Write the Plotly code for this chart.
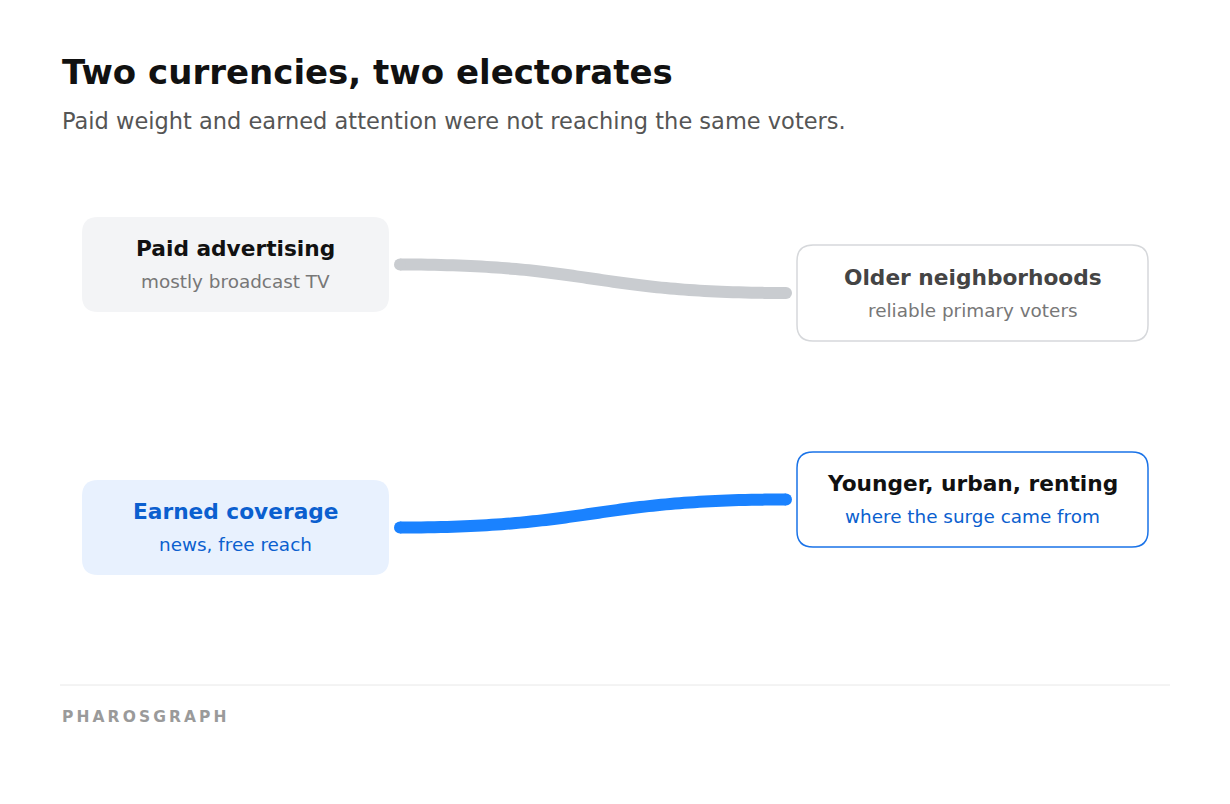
import numpy as np
import plotly.graph_objects as go

# Diagram data
source_labels = ["Paid advertising", "Earned coverage"]
source_notes = ["mostly broadcast TV", "news, free reach"]
target_labels = ["Older neighborhoods", "Younger, urban, renting"]
target_notes = ["reliable primary voters", "where the surge came from"]
flow_colors = ["#c9ccd0", "#1a82ff"]

W, H = 1230, 804
OFF = 8  # page body margin
FONT = "DejaVu Sans"

# node boxes in pixel space (x0, y0, x1, y1)
src_boxes = [(82, 217, 389, 312), (82, 480, 389, 575)]
tgt_boxes = [(797, 245, 1148, 341), (797, 452, 1148, 547)]
src_style = [dict(fill="#f3f4f6", line="rgba(0,0,0,0)", title="#111111", note="#777777"),
             dict(fill="#e8f1fe", line="rgba(0,0,0,0)", title="#0b5fcf", note="#0b5fcf")]
tgt_style = [dict(fill="#ffffff", line="#d6d8db", title="#444444", note="#777777"),
             dict(fill="#ffffff", line="#1a73e8", title="#111111", note="#0b5fcf")]


def rounded(x0, y0, x1, y1, r=16):
    return (f"M{x0+r},{y0} L{x1-r},{y0} Q{x1},{y0} {x1},{y0+r} L{x1},{y1-r} "
            f"Q{x1},{y1} {x1-r},{y1} L{x0+r},{y1} Q{x0},{y1} {x0},{y1-r} "
            f"L{x0},{y0+r} Q{x0},{y0} {x0+r},{y0} Z")


fig = go.Figure()
shapes = []
annotations = []

for boxes, labels, notes, styles in [(src_boxes, source_labels, source_notes, src_style),
                                     (tgt_boxes, target_labels, target_notes, tgt_style)]:
    for (x0, y0, x1, y1), lab, note, st in zip(boxes, labels, notes, styles):
        shapes.append(dict(type="path", path=rounded(x0, y0, x1, y1), xref="x", yref="y",
                           fillcolor=st["fill"], line=dict(color=st["line"], width=1.5), layer="below"))
        cx, cy = (x0 + x1) / 2, (y0 + y1) / 2
        annotations.append(dict(x=cx, y=cy - 16, text=f"<b>{lab}</b>", showarrow=False,
                                font=dict(family=FONT, size=21.7, color=st["title"])))
        annotations.append(dict(x=cx, y=cy + 17, text=note, showarrow=False,
                                font=dict(family=FONT, size=18.4, color=st["note"])))

# flows: S-curve from right edge of source to left edge of target
t = np.linspace(0, 1, 80)
for sb, tb, col in zip(src_boxes, tgt_boxes, flow_colors):
    xa, ya = sb[2] + 11, (sb[1] + sb[3]) / 2
    xb, yb = tb[0] - 11, (tb[1] + tb[3]) / 2
    mx = (xa + xb) / 2
    xs = (1 - t) ** 3 * xa + 3 * (1 - t) ** 2 * t * mx + 3 * (1 - t) * t ** 2 * mx + t ** 3 * xb
    ys = (1 - t) ** 3 * ya + 3 * (1 - t) ** 2 * t * ya + 3 * (1 - t) * t ** 2 * yb + t ** 3 * yb
    fig.add_trace(go.Scatter(x=xs, y=ys, mode="lines", line=dict(color=col, width=12, simplify=False),
                             hoverinfo="skip", showlegend=False))
    for px, py in [(xa, ya), (xb, yb)]:
        fig.add_trace(go.Scatter(x=[px], y=[py], mode="markers", marker=dict(color=col, size=12),
                                 hoverinfo="skip", showlegend=False))

# titles and footer
annotations += [
    dict(x=60, y=72, text="<b>Two currencies, two electorates</b>", xanchor="left", showarrow=False,
         font=dict(family=FONT, size=34, color="#111111")),
    dict(x=60, y=121, text="Paid weight and earned attention were not reaching the same voters.",
         xanchor="left", showarrow=False, font=dict(family=FONT, size=22.5, color="#555555")),
    dict(x=60, y=717, text="<b>" + "&#8201;".join("PHAROSGRAPH") + "</b>", xanchor="left",
         showarrow=False, font=dict(family=FONT, size=15.5, color="#9a9a9a")),
]
shapes.append(dict(type="line", x0=60, x1=1170, y0=685, y1=685, xref="x", yref="y",
                   line=dict(color="#e8e8e8", width=1)))

fig.update_layout(
    width=W, height=H, margin=dict(l=0, r=0, t=0, b=0),
    paper_bgcolor="white", plot_bgcolor="white",
    xaxis=dict(range=[OFF, W + OFF], visible=False, fixedrange=True),
    yaxis=dict(range=[H + OFF, OFF], visible=False, fixedrange=True),
    shapes=shapes, annotations=annotations,
)
for a in fig.layout.annotations:
    a.xref = "x"
    a.yref = "y"

fig.write_html("out.html")
